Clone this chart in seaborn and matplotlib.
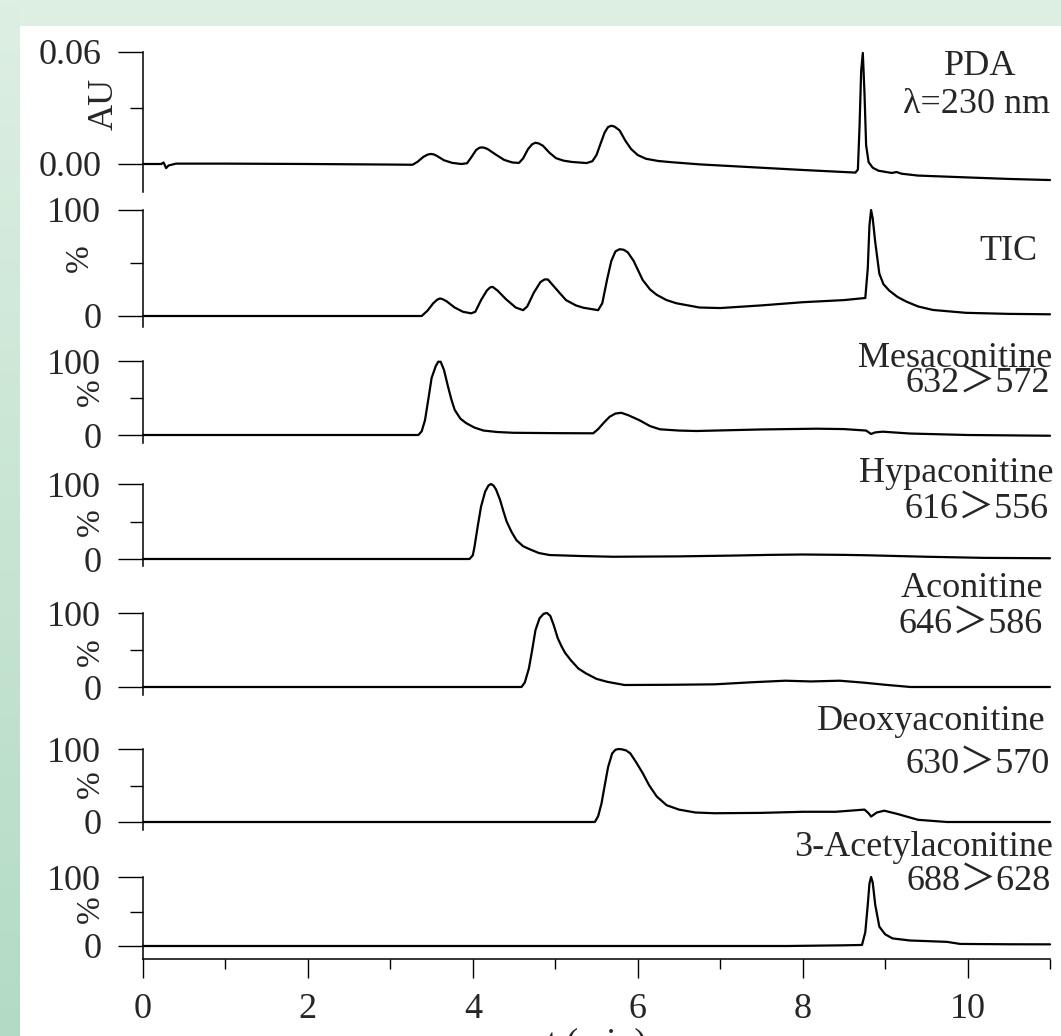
import numpy as np
import matplotlib
matplotlib.use('Agg')
import matplotlib.pyplot as plt
from matplotlib.patches import Rectangle
from matplotlib.colors import LinearSegmentedColormap
import seaborn as sns

# ─────────────────────────────────────────────
# DATA (t in min)
# ─────────────────────────────────────────────
pda_t = [0.00, 0.22, 0.25, 0.28, 0.31, 0.40, 1.00, 2.00, 3.00, 3.27, 3.33, 3.40, 3.45, 3.49,
         3.53, 3.57, 3.65, 3.75, 3.86, 3.93, 3.98, 4.04, 4.08, 4.11, 4.14, 4.18, 4.28, 4.38,
         4.48, 4.56, 4.61, 4.67, 4.72, 4.76, 4.80, 4.85, 4.93, 5.01, 5.10, 5.20, 5.38, 5.45,
         5.50, 5.55, 5.60, 5.64, 5.68, 5.72, 5.78, 5.85, 5.92, 6.00, 6.10, 6.25, 6.40, 6.75,
         7.50, 8.00, 8.64, 8.67, 8.69, 8.71, 8.73, 8.75, 8.77, 8.80, 8.85, 8.92, 9.08, 9.14,
         9.20, 9.40, 10.00, 10.50, 11.00]
pda_au = [0.0000, 0.0000, 0.0008, -0.0022, -0.0008, 0.0002, 0.0002, 0.0000, -0.0003, -0.0004,
          0.0012, 0.0038, 0.0050, 0.0054, 0.0051, 0.0042, 0.0020, 0.0006, 0.0000, 0.0004,
          0.0035, 0.0075, 0.0087, 0.0089, 0.0087, 0.0080, 0.0050, 0.0022, 0.0008, 0.0006,
          0.0030, 0.0080, 0.0106, 0.0114, 0.0110, 0.0098, 0.0060, 0.0031, 0.0018, 0.0011,
          0.0005, 0.0015, 0.0048, 0.0110, 0.0170, 0.0198, 0.0205, 0.0200, 0.0180, 0.0125,
          0.0080, 0.0048, 0.0028, 0.0016, 0.0010, -0.0002, -0.0020, -0.0032, -0.0046, -0.0030,
          0.0200, 0.0500, 0.0595, 0.0380, 0.0100, 0.0010, -0.0020, -0.0036, -0.0048, -0.0043,
          -0.0052, -0.0062, -0.0072, -0.0080, -0.0086]

tic_t = [0.00, 3.38, 3.45, 3.52, 3.57, 3.60, 3.63, 3.68, 3.78, 3.88, 3.98, 4.03, 4.10, 4.17,
         4.21, 4.24, 4.30, 4.40, 4.52, 4.61, 4.66, 4.74, 4.82, 4.87, 4.91, 4.96, 5.05, 5.13,
         5.25, 5.34, 5.52, 5.57, 5.63, 5.68, 5.73, 5.78, 5.83, 5.88, 5.95, 6.06, 6.15, 6.23,
         6.35, 6.47, 6.75, 7.00, 7.50, 8.00, 8.50, 8.76, 8.79, 8.81, 8.83, 8.85, 8.88, 8.93,
         8.98, 9.05, 9.15, 9.26, 9.40, 9.58, 9.98, 10.50, 11.00]
tic_pct = [0, 0, 5, 12, 15.5, 16.5, 16, 14, 8, 4, 2.5, 4, 15, 24, 27, 27.5, 24, 16, 8, 5.5, 9,
           22, 32, 34.5, 34.5, 30, 22, 15, 10, 7.8, 5.5, 12, 35, 52, 61, 63, 62.5, 60, 52, 34,
           25, 20, 15, 12, 8, 7.5, 10, 13, 15, 17, 45, 85, 100, 92, 70, 40, 30, 24, 18, 13.5, 9,
           5.7, 3, 2, 1.6]

mesa_t = [0.00, 3.34, 3.38, 3.42, 3.46, 3.50, 3.55, 3.58, 3.61, 3.65, 3.70, 3.74, 3.78, 3.85,
          3.92, 4.02, 4.13, 4.30, 4.49, 5.00, 5.46, 5.52, 5.60, 5.66, 5.73, 5.80, 5.88, 6.02,
          6.15, 6.27, 6.50, 6.71, 7.12, 7.50, 8.17, 8.50, 8.77, 8.83, 8.88, 8.97, 9.30, 10.00,
          11.00]
mesa_pct = [0, 0, 5, 20, 48, 77, 93, 99, 99, 88, 65, 48, 34, 22, 16, 10, 6, 4, 3, 2.5, 2.3, 8,
            18, 24.7, 29, 30, 27, 20, 12, 7.7, 6, 5.4, 6.5, 7.5, 8.5, 8, 6, 1.4, 3.5, 4.5, 2, 0,
            -1]

hypa_t = [0.00, 3.96, 4.00, 4.02, 4.06, 4.10, 4.15, 4.19, 4.22, 4.25, 4.28, 4.33, 4.37, 4.41,
          4.47, 4.53, 4.61, 4.69, 4.80, 4.93, 5.30, 5.70, 6.50, 7.12, 7.60, 8.00, 8.50, 8.77,
          9.50, 10.20, 11.00]
hypa_pct = [0, 0, 5, 16, 44, 70, 90, 98, 100, 98, 93, 79, 64, 50, 36, 25, 17, 13, 8, 5.3, 4, 3,
            3.5, 4.5, 5.5, 6, 5.5, 5, 3, 1.5, 1]

aco_t = [0.00, 4.59, 4.63, 4.68, 4.72, 4.76, 4.81, 4.86, 4.90, 4.94, 4.98, 5.03, 5.08, 5.12,
         5.19, 5.28, 5.37, 5.50, 5.63, 5.84, 6.40, 6.93, 7.40, 7.79, 8.10, 8.45, 8.75, 9.00,
         9.31, 11.00]
aco_pct = [0, 0, 6, 25, 50, 77, 93, 99, 100, 96, 84, 66, 54, 46, 36, 25, 18.5, 11, 7, 2.7, 3,
           3.6, 6.5, 8.5, 7.5, 8.5, 5.8, 3, 0, 0]

deoxy_t = [0.00, 5.48, 5.52, 5.56, 5.59, 5.64, 5.69, 5.73, 5.77, 5.81, 5.86, 5.91, 5.98, 6.06,
           6.14, 6.23, 6.35, 6.50, 6.70, 6.93, 7.50, 8.01, 8.40, 8.75, 8.80, 8.83, 8.90, 8.99,
           9.15, 9.40, 9.75, 11.00]
deoxy_pct = [0, 0, 8, 25, 44, 75, 94, 99, 100, 99.5, 98, 94, 82, 67, 50, 35, 23, 17, 13, 12,
             12.5, 14, 14, 17, 12, 7.5, 13, 15.5, 11, 3, 0, 0]

acetyl_t = [0.00, 7.82, 8.50, 8.72, 8.76, 8.79, 8.81, 8.83, 8.85, 8.88, 8.93, 9.00, 9.09, 9.30,
            9.75, 9.91, 10.50, 11.00]
acetyl_pct = [0, 0, 1, 1.5, 20, 60, 90, 100, 92, 60, 28, 17, 11, 8, 6, 3, 2.5, 2.4]

x_major = [0, 2, 4, 6, 8, 10]
x_minor = [1, 3, 5, 7, 9, 11]

# traces: (t, y, y max, y tick labels, axis label, right-hand labels)
traces = [
    (pda_t, pda_au, 0.06, ['0.00', '0.06'], 'AU', ['PDA', 'λ=230 nm']),
    (tic_t, tic_pct, 100, ['0', '100'], '%', ['TIC']),
    (mesa_t, mesa_pct, 100, ['0', '100'], '%', ['Mesaconitine', '632＞572']),
    (hypa_t, hypa_pct, 100, ['0', '100'], '%', ['Hypaconitine', '616＞556']),
    (aco_t, aco_pct, 100, ['0', '100'], '%', ['Aconitine', '646＞586']),
    (deoxy_t, deoxy_pct, 100, ['0', '100'], '%', ['Deoxyaconitine', '630＞570']),
    (acetyl_t, acetyl_pct, 100, ['0', '100'], '%', ['3-Acetylaconitine', '688＞628']),
]

# ─────────────────────────────────────────────
# LAYOUT (pixels, top-left origin)
# ─────────────────────────────────────────────
W, H = 1061, 1036
X0, X1 = 143, 1050
# top (=ymax), zero line, bottom of spine
rows_px = [(52, 164, 192), (210, 316, 327), (361, 435, 443), (484, 559, 566),
           (613, 687, 695), (749, 822, 830), (877, 946, 959)]
ylab_px = [(104, 104), (80, 258), (91, 392), (91, 522), (91, 652), (91, 784), (91, 909)]
right_px = [[(980, 75), (977, 113)], [(1008, 260)], [(955, 367), (978, 392)],
            [(956, 482), (977, 518)], [(972, 597), (971, 633)],
            [(931, 730), (978, 773)], [(924, 856), (979, 890)]]

sns.set_theme(style='ticks')
plt.rcParams['font.family'] = ['Liberation Serif', 'Noto Sans CJK SC']
FS = 26

fig = plt.figure(figsize=(W / 100, H / 100), dpi=100)
fig.patch.set_facecolor('#ddeee3')

# left green strip with a soft vertical gradient
ax_bg = fig.add_axes([0, 0, 20 / W, 1], zorder=-10)
grad = np.linspace(0, 1, 256).reshape(-1, 1)
cmap = LinearSegmentedColormap.from_list('strip', ['#ddefe3', '#b3dbc3'])
ax_bg.imshow(grad, aspect='auto', cmap=cmap, extent=[0, 1, 0, 1], origin='upper')
ax_bg.axis('off')
fig.add_artist(Rectangle((20 / W, 0), 1 - 20 / W, 1 - 26 / H, transform=fig.transFigure,
                         facecolor='white', edgecolor='none', zorder=-5))

for i, (t, y, ymax, ylabs, ylab, rlabels) in enumerate(traces):
    top, zero, bot = rows_px[i]
    ax = fig.add_axes([X0 / W, 1 - bot / H, (X1 - X0) / W, (bot - top) / H])
    ax.set_facecolor('none')
    sns.lineplot(x=t, y=y, ax=ax, color='black', linewidth=1.6, estimator=None, sort=False)
    ax.lines[-1].set_clip_on(False)

    ax.set_xlim(0, 11)
    ax.set_ylim(-(bot - zero) / (zero - top) * ymax, ymax)
    ax.set_yticks([0, ymax])
    ax.set_yticklabels(ylabs)
    ax.set_yticks([ymax / 2], minor=True)
    ax.tick_params(axis='y', which='major', length=18, width=1.0, pad=12,
                   labelsize=FS, color='black')
    ax.tick_params(axis='y', which='minor', length=9.5, width=1.0, color='black')
    ax.set_ylabel('')
    ax.set_xlabel('')
    for s in ['top', 'right']:
        ax.spines[s].set_visible(False)
    ax.spines['left'].set_linewidth(1.1)
    ax.spines['left'].set_color('black')

    if i < len(traces) - 1:
        ax.spines['bottom'].set_visible(False)
        ax.tick_params(axis='x', which='both', bottom=False, labelbottom=False)
    else:
        ax.spines['bottom'].set_linewidth(1.1)
        ax.spines['bottom'].set_color('black')
        ax.set_xticks(x_major)
        ax.set_xticklabels([str(v) for v in x_major])
        ax.set_xticks(x_minor, minor=True)
        ax.tick_params(axis='x', which='major', length=13.7, width=1.0, pad=11,
                       labelsize=FS, color='black')
        ax.tick_params(axis='x', which='minor', length=7.2, width=1.0, color='black')
        ax.set_xlabel('t (min)', fontsize=FS)
        ax.xaxis.set_label_coords(0.5, -(1027 - bot) / (bot - top))
        ax.xaxis.label.set_va('top')

    lx, ly = ylab_px[i]
    fig.text(lx / W, 1 - ly / H, ylab, rotation=90, ha='center', va='center',
             fontsize=FS if ylab == 'AU' else 24)

    for (tx, ty), lab in zip(right_px[i], rlabels):
        fig.text(tx / W, 1 - ty / H, lab, ha='center', va='baseline', fontsize=FS)

fig.savefig('out.png', dpi=100)
